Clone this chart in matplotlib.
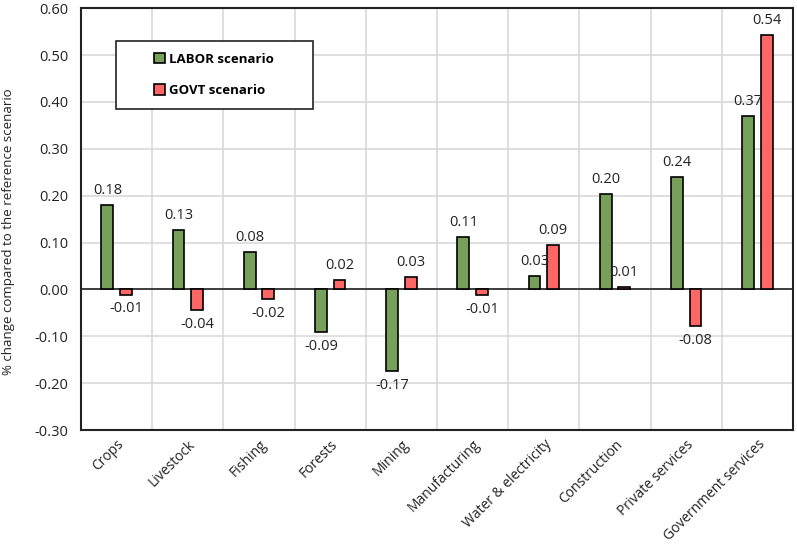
import numpy as np
import matplotlib.pyplot as plt
from matplotlib.patches import Rectangle

plt.rcParams['font.family'] = ['Open Sans', 'DejaVu Sans']

sectors = ["Crops", "Livestock", "Fishing", "Forests", "Mining", "Manufacturing",
           "Water & electricity", "Construction", "Private services", "Government services"]
labor = [0.18, 0.126, 0.08, -0.091, -0.174, 0.111, 0.028, 0.203, 0.24, 0.37]
govt = [-0.011, -0.045, -0.02, 0.02, 0.026, -0.012, 0.094, 0.005, -0.079, 0.543]
labor_txt = ["0.18", "0.13", "0.08", "-0.09", "-0.17", "0.11", "0.03", "0.20", "0.24", "0.37"]
govt_txt = ["-0.01", "-0.04", "-0.02", "0.02", "0.03", "-0.01", "0.09", "0.01", "-0.08", "0.54"]
yticks = [-0.3, -0.2, -0.1, 0.0, 0.1, 0.2, 0.3, 0.4, 0.5, 0.6]

green = "#77a05a"
red = "#ff6666"

fig = plt.figure(figsize=(7.97, 5.45), dpi=100)
ax = fig.add_axes([0.1016, 0.211, 0.8934, 0.774])

x = np.arange(len(sectors))
w = 0.165
off = 0.13
ax.bar(x - off, labor, w, color=green, edgecolor="black", linewidth=1.2,
       label="LABOR scenario", zorder=3)
ax.bar(x + off, govt, w, color=red, edgecolor="black", linewidth=1.2,
       label="GOVT scenario", zorder=3)

for xs, vals, txts in [(x - off, labor, labor_txt), (x + off, govt, govt_txt)]:
    for xi, v, t in zip(xs, vals, txts):
        if v >= 0:
            ax.annotate(t, (xi, v), xytext=(0, 5), textcoords="offset points",
                        ha="center", va="bottom", fontsize=10.5, color="#222222", zorder=4)
        else:
            ax.annotate(t, (xi, v), xytext=(0, -5), textcoords="offset points",
                        ha="center", va="top", fontsize=10.5, color="#222222", zorder=4)

ax.set_xlim(-0.5, len(sectors) - 0.5)
ax.set_ylim(-0.3, 0.6)
ax.set_yticks(yticks)
ax.set_yticklabels(["%.2f" % t for t in yticks], fontsize=10.5, color="#222222")
ax.set_xticks(x)
ax.set_xticklabels(sectors, rotation=45, ha="right", rotation_mode="anchor",
                   fontsize=10, color="#222222")
ax.tick_params(axis="y", length=0, pad=9)
ax.tick_params(axis="x", length=0, pad=5)

# grid: horizontal at ticks, vertical at category borders
for t in yticks:
    ax.axhline(t, color="#d9d9d9", linewidth=1.2, zorder=0)
for b in np.arange(-0.5, len(sectors), 1.0):
    ax.axvline(b, color="#d9d9d9", linewidth=1.2, zorder=0)
ax.axhline(0, color="#222222", linewidth=1.2, zorder=2)

for s in ax.spines.values():
    s.set_linewidth(1.5)
    s.set_color("#222222")

ax.set_ylabel("% change compared to the reference scenario", fontsize=9.5, color="#222222")
ax.yaxis.set_label_coords(-0.093, 0.47)

ax.add_patch(Rectangle((0.049, 0.761), 0.277, 0.161, transform=ax.transAxes,
                       facecolor="white", edgecolor="#222222", linewidth=1.2, zorder=5))
leg = ax.legend(loc="center", bbox_to_anchor=(0.187, 0.842), frameon=False,
                handlelength=0.8, handleheight=0.8, handletextpad=0.3,
                labelspacing=1.4, prop={"weight": "bold", "size": 9.5})
leg.set_zorder(6)

fig.savefig("out.png", dpi=100)
